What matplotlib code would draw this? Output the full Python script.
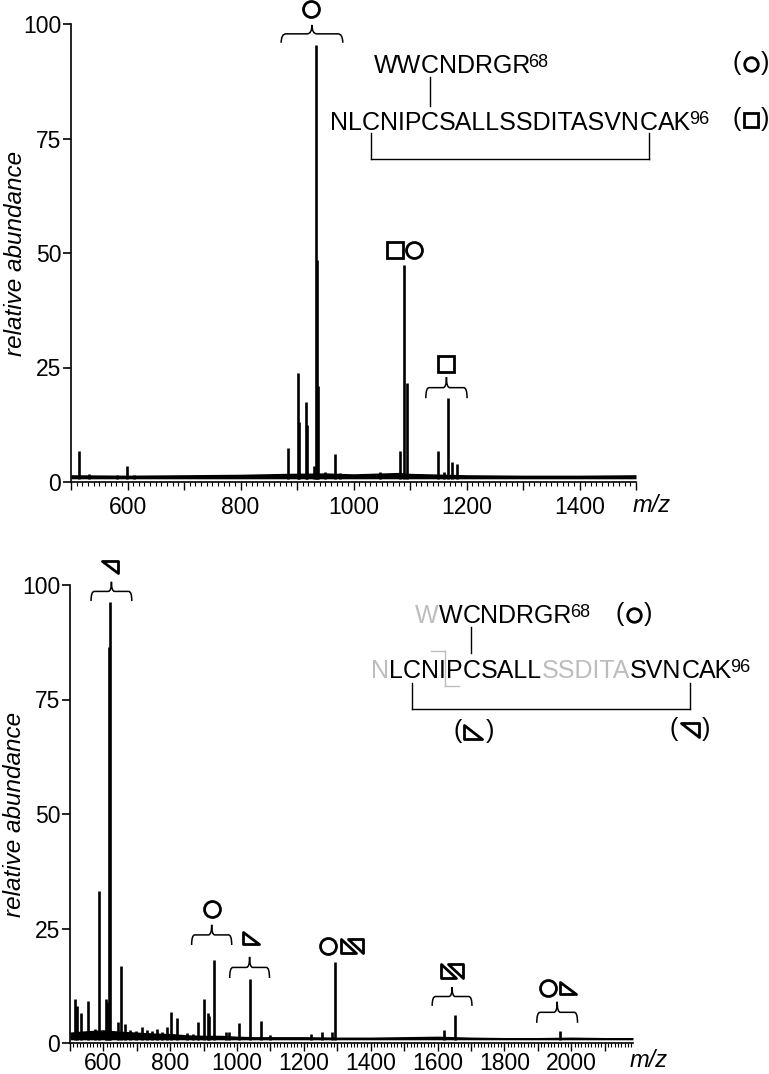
import matplotlib
matplotlib.use("Agg")
import matplotlib.pyplot as plt
from matplotlib.path import Path
from matplotlib.patches import PathPatch
from matplotlib.ticker import MultipleLocator, FuncFormatter

plt.rcParams['font.family'] = ['Liberation Sans', 'DejaVu Sans']

# ---- upper spectrum: peaks (m/z, relative abundance) ----
top_mz = [514, 532, 581, 599, 612, 884, 902, 904, 916, 918, 930, 934, 935.5, 937,
          950, 967, 976, 1047, 1082, 1089, 1095, 1150, 1160, 1167, 1174, 1183]
top_int = [6.8, 1.8, 1.6, 3.5, 1.6, 7.4, 23.8, 13.0, 17.5, 12.5, 3.5, 95.4, 48.5, 21.0,
           2.2, 6.1, 2.0, 2.2, 6.8, 47.4, 21.6, 6.8, 2.2, 18.3, 4.4, 4.0]
# noise floor of the upper spectrum
top_base_mz = [500, 600, 700, 800, 880, 950, 1000, 1080, 1100, 1200, 1300, 1400, 1500]
top_base = [1.6, 1.5, 1.6, 1.7, 1.9, 2.0, 1.8, 2.1, 1.9, 1.6, 1.5, 1.5, 1.6]

# ---- lower spectrum ----
bot_mz = [515, 521, 533, 554, 575, 587, 607, 610, 617, 621, 643, 652, 664, 680, 697,
          715, 730, 745, 760, 775, 790, 801, 819, 850, 867, 882, 900, 912, 916, 930,
          966, 975, 1007, 1040, 1073, 1100, 1222, 1255, 1285, 1294, 1619, 1652, 1966]
bot_int = [9.6, 8.0, 6.5, 9.2, 3.0, 33.2, 9.6, 9.0, 86.5, 96.3, 4.6, 16.8, 4.1, 2.8, 2.6,
           3.5, 2.8, 2.6, 3.0, 2.4, 3.5, 6.7, 5.5, 2.2, 2.0, 4.6, 9.6, 6.5, 6.0, 18.1,
           2.5, 2.5, 4.4, 14.0, 4.8, 1.8, 2.0, 2.5, 2.5, 17.7, 2.8, 6.1, 2.6]
bot_base_mz = [500, 550, 600, 650, 700, 750, 800, 850, 900, 950, 1000, 1050, 1100, 1200,
               1300, 1400, 1500, 1600, 1700, 1800, 1900, 2000, 2100, 2185]
bot_base = [2.4, 2.7, 2.9, 2.6, 2.4, 2.2, 2.1, 1.8, 1.7, 1.7, 1.5, 1.4, 1.4, 1.4,
            1.3, 1.3, 1.4, 1.5, 1.3, 1.2, 1.2, 1.3, 1.2, 1.2]

# peak labels: (symbol, m/z, abundance) and braces (mz from, mz to, abundance, height)
top_marks = [('o', 925, 103.3), ('s', 1073, 50.7), ('o', 1107, 50.7), ('s', 1164, 25.8)]
top_braces = [(872, 981, 95.9, 3.9), (1128, 1201, 18.3, 4.6)]
bot_marks = [('ur', 619, 103.9), ('o', 924, 29.3), ('ll', 1043, 22.9), ('o', 1273, 21.2),
             ('sd', 1343, 21.2), ('sd', 1643, 15.7), ('o', 1930, 12.0), ('ll', 1990, 12.0)]
bot_braces = [(563, 685, 96.5, 4.2), (864, 984, 21.4, 4.4), (978, 1097, 14.2, 4.6),
              (1584, 1703, 8.1, 4.1), (1897, 2019, 4.4, 4.6)]

GREY = '#bdbdbd'
SEQ = 18
SUP = 13

MOVE, LINE, CLOSE = Path.MOVETO, Path.LINETO, Path.CLOSEPOLY
MARKERS = {
    'o': 'o',
    's': 's',
    'ur': Path([(-1, 0.8), (1, 0.8), (1, -0.8), (-1, 0.8)], [MOVE, LINE, LINE, CLOSE]),
    'll': Path([(-1, 0.8), (-1, -0.8), (1, -0.8), (-1, 0.8)], [MOVE, LINE, LINE, CLOSE]),
    'sd': Path([(-1, 0.62), (-1, -0.62), (0.35, -0.62), (-1, 0.62),
                (-0.35, 0.62), (1, 0.62), (1, -0.62), (-0.35, 0.62)],
               [MOVE, LINE, LINE, CLOSE, MOVE, LINE, LINE, CLOSE]),
}
MS = {'o': 11.5, 's': 11.0, 'ur': 11.5, 'll': 11.5, 'sd': 16.5}

fig = plt.figure(figsize=(7.69, 10.74), dpi=100)
ax1 = fig.add_axes([71 / 769, (1074 - 482) / 1074, 565 / 769, 458 / 1074])
ax2 = fig.add_axes([70 / 769, (1074 - 1043) / 1074, 563 / 769, 458 / 1074])


def style(ax, xmax, mz_y, xpad):
    ax.set_xlim(500, xmax)
    ax.set_ylim(0, 100)
    for s in ['top', 'right']:
        ax.spines[s].set_visible(False)
    for s in ['left', 'bottom']:
        ax.spines[s].set_linewidth(1.2)
    ax.xaxis.set_major_locator(MultipleLocator(100))
    ax.xaxis.set_minor_locator(MultipleLocator(10))
    ax.xaxis.set_major_formatter(FuncFormatter(lambda v, p: f'{v:.0f}' if v % 200 == 0 else ''))
    ax.set_yticks([0, 25, 50, 75, 100])
    ax.tick_params(axis='y', length=6, width=1.2, pad=1, labelsize=16.5)
    ax.tick_params(axis='x', which='major', length=5.8, width=1, pad=xpad, labelsize=16.5)
    ax.tick_params(axis='x', which='minor', length=2.9, width=0.8)
    ax.set_ylabel('relative abundance', fontstyle='italic', fontsize=17.5)
    ax.yaxis.set_label_coords(-0.078, 0.5)
    ax.text(1.027, mz_y, 'm/z', transform=ax.transAxes, fontstyle='italic', fontsize=17,
            ha='center', va='center')


def spectrum(ax, mz, inten, base_mz, base):
    ax.fill_between(base_mz, 0.7, base, color='k', lw=0)
    ax.vlines(mz, 0.7, inten, color='k', lw=1.9)


def brace(ax, x0, x1, y, h):
    w = x1 - x0
    xm = (x0 + x1) / 2
    ym, yt = y + h / 2, y + h
    r = 0.08 * w
    verts = [(x0, y), (x0, ym), (x0 + r, ym), (xm - r, ym), (xm, ym), (xm, yt),
             (xm, ym), (xm + r, ym), (x1 - r, ym), (x1, ym), (x1, y)]
    codes = [MOVE, Path.CURVE3, Path.CURVE3, LINE, Path.CURVE3, Path.CURVE3,
             Path.CURVE3, Path.CURVE3, LINE, Path.CURVE3, Path.CURVE3]
    ax.add_patch(PathPatch(Path(verts, codes), fill=False, lw=1.1, ec='k', clip_on=False))


def mark(ax, key, x, y, scale=1.0):
    ax.plot([x], [y], ls='none', marker=MARKERS[key], ms=MS[key] * scale, mew=2.0,
            mfc='none', mec='k', clip_on=False)


def px(ax, x, y):
    return ax.transData.transform((x, y))


def dat(ax, p, q):
    return ax.transData.inverted().transform((p, q))


def chain(ax, x, y, parts):
    """Place text pieces one after another on a common baseline."""
    r = fig.canvas.get_renderer()
    p, q = px(ax, x, y)
    arts = []
    for s, color, size, rise in parts:
        if size < SEQ:
            p -= 2
        dx, dy = dat(ax, p, q + rise)
        t = ax.text(dx, dy, s, color=color, fontsize=size, ha='left', va='baseline')
        p = t.get_window_extent(r).x1
        arts.append(t)
    return arts


def shift(ax, arts, dpx):
    for t in arts:
        xx, yy = t.get_position()
        p, q = px(ax, xx, yy)
        t.set_position(dat(ax, p + dpx, q))


def cx(ax, t):
    r = fig.canvas.get_renderer()
    bb = t.get_window_extent(r)
    return (bb.x0 + bb.x1) / 2, bb.x0


def seg_px(ax, x0p, y0p, x1p, y1p, color='k'):
    a = dat(ax, x0p, y0p)
    b = dat(ax, x1p, y1p)
    ax.plot([a[0], b[0]], [a[1], b[1]], color=color, lw=1, clip_on=False)


def paren_mark(ax, x, y, key, gap, scale):
    p, q = px(ax, x, y)
    a = dat(ax, p - gap, q - 6)
    b = dat(ax, p + gap, q - 6)
    ax.text(a[0], a[1], '(', fontsize=SEQ, ha='right', va='baseline')
    ax.text(b[0], b[1], ')', fontsize=SEQ, ha='left', va='baseline')
    mark(ax, key, x, y, scale)


style(ax1, 1500, -0.052, 4.5)
style(ax2, 2185, -0.039, 0.5)
spectrum(ax1, top_mz, top_int, top_base_mz, top_base)
spectrum(ax2, bot_mz, bot_int, bot_base_mz, bot_base)
for b in top_braces:
    brace(ax1, *b)
for b in bot_braces:
    brace(ax2, *b)
for k, x, y in top_marks:
    mark(ax1, k, x, y)
for k, x, y in bot_marks:
    mark(ax2, k, x, y)

# ---- upper sequence scheme ----
l2 = chain(ax1, 958, 76.9, [('NL', 'k', SEQ, 0), ('C', 'k', SEQ, 0), ('NIP', 'k', SEQ, 0),
                             ('C', 'k', SEQ, 0), ('SALLSSDITASVN', 'k', SEQ, 0),
                             ('C', 'k', SEQ, 0), ('AK', 'k', SEQ, 0), ('96', 'k', SUP, 6)])
l1 = chain(ax1, 958, 89.3, [('WW', 'k', SEQ, 0), ('C', 'k', SEQ, 0), ('NDRGR', 'k', SEQ, 0),
                             ('68', 'k', SUP, 6)])
shift(ax1, l1, cx(ax1, l2[3])[0] - cx(ax1, l1[1])[0])
c_top = cx(ax1, l1[1])[0]
b1 = px(ax1, 0, 89.3)[1]
b2 = px(ax1, 0, 76.9)[1]
seg_px(ax1, c_top, b1 - 4, c_top, b2 + 24)
ca, cb = cx(ax1, l2[1])[0], cx(ax1, l2[5])[0]
seg_px(ax1, ca, b2 - 3, ca, b2 - 29)
seg_px(ax1, cb, b2 - 3, cb, b2 - 29)
seg_px(ax1, ca, b2 - 29, cb, b2 - 29)
paren_mark(ax1, 1703, 91.3, 'o', 10, 0.85)
paren_mark(ax1, 1703, 79.0, 's', 10, 0.9)

# ---- lower sequence scheme ----
m2 = chain(ax2, 1401, 79.7, [('N', GREY, SEQ, 0), ('L', 'k', SEQ, 0), ('C', 'k', SEQ, 0),
                              ('NI', 'k', SEQ, 0), ('P', 'k', SEQ, 0), ('C', 'k', SEQ, 0),
                              ('SALL', 'k', SEQ, 0), ('SSDITA', GREY, SEQ, 0),
                              ('SVN', 'k', SEQ, 0), ('C', 'k', SEQ, 0), ('AK', 'k', SEQ, 0),
                              ('96', 'k', SUP, 6)])
m1 = chain(ax2, 1401, 91.7, [('W', GREY, SEQ, 0), ('W', 'k', SEQ, 0), ('C', 'k', SEQ, 0),
                              ('NDRGR', 'k', SEQ, 0), ('68', 'k', SUP, 6)])
shift(ax2, m1, cx(ax2, m2[5])[0] - cx(ax2, m1[2])[0])
c_bot = cx(ax2, m1[2])[0]
d1 = px(ax2, 0, 91.7)[1]
d2 = px(ax2, 0, 79.7)[1]
seg_px(ax2, c_bot, d1 - 4, c_bot, d2 + 25)
ca, cb = cx(ax2, m2[2])[0], cx(ax2, m2[9])[0]
seg_px(ax2, ca, d2 - 5, ca, d2 - 31)
seg_px(ax2, cb, d2 - 5, cb, d2 - 31)
seg_px(ax2, ca, d2 - 31, cb, d2 - 31)
lp = cx(ax2, m2[4])[1] - 1
seg_px(ax2, lp - 14, d2 + 27, lp, d2 + 27, GREY)
seg_px(ax2, lp, d2 + 27, lp, d2 - 8, GREY)
seg_px(ax2, lp, d2 - 8, lp + 14, d2 - 8, GREY)
paren_mark(ax2, 2187, 93.4, 'o', 10, 0.85)
pl = dat(ax2, c_bot + 2, px(ax2, 0, 67.9)[1])
paren_mark(ax2, pl[0], pl[1], 'll', 12, 1.1)
pr = dat(ax2, cb, px(ax2, 0, 68.4)[1])
paren_mark(ax2, pr[0], pr[1], 'ur', 12, 1.1)

fig.savefig('out.png', dpi=100)
